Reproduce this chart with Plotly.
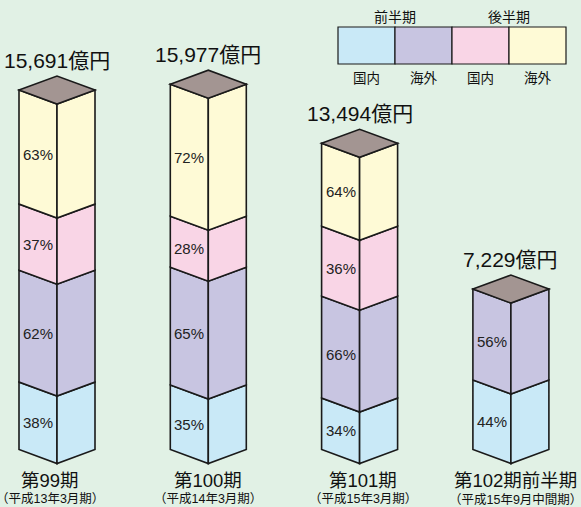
import plotly.graph_objects as go

# ---- data (億円) ----
periods = ["第99期", "第100期", "第101期", "第102期前半期"]
sub_labels = ["（平成13年3月期）", "（平成14年3月期）", "（平成15年3月期）", "（平成15年9月中間期）"]
totals = [15691, 15977, 13494, 7229]
h1_domestic = [2950, 2820, 2250, 3040]   # 前半期 国内
h1_overseas = [4900, 5160, 4460, 3980]   # 前半期 海外
h2_domestic = [2890, 2230, 3060, 0]      # 後半期 国内
h2_overseas = [4990, 5780, 3630, 0]      # 後半期 海外
pct_h1_domestic = [38, 35, 34, 44]
pct_h1_overseas = [62, 65, 66, 56]
pct_h2_domestic = [37, 28, 36, None]
pct_h2_overseas = [63, 72, 64, None]
legend_groups = ["前半期", "後半期"]
legend_items = ["国内", "海外", "国内", "海外"]

# ---- style ----
W, H = 581, 507
BG = "#e1f1e5"
C_BLUE = "#c9e9f7"
C_PURPLE = "#c8c5e1"
C_PINK = "#f9d5e6"
C_YELLOW = "#fefad6"
C_TOP = "#a39592"
LINE = "#1a1a1a"
FONT = "Liberation Sans, Noto Sans CJK JP, sans-serif"

PX_PER_UNIT = 0.02285          # pixels per 億円
BASE_PX = 449.5                # pixel row of value 0
X0_PX, STEP_PX = 57, 151.3     # centre of first bar, spacing
HALF_W = 38 / STEP_PX          # half width in x units
DEPTH = 14 / PX_PER_UNIT       # perspective offset in y units

yr = [-(H - BASE_PX) / PX_PER_UNIT, BASE_PX / PX_PER_UNIT]
xr = [-X0_PX / STEP_PX, (W - X0_PX) / STEP_PX]

fig = go.Figure()
shapes = []
annotations = []


def poly(pts, color):
    path = "M " + " L ".join(f"{px:.5f},{py:.3f}" for px, py in pts) + " Z"
    shapes.append(dict(type="path", xref="x", yref="y", path=path,
                       fillcolor=color, line=dict(color=LINE, width=1.6),
                       layer="above"))


series = [
    (h1_domestic, C_BLUE, pct_h1_domestic),
    (h1_overseas, C_PURPLE, pct_h1_overseas),
    (h2_domestic, C_PINK, pct_h2_domestic),
    (h2_overseas, C_YELLOW, pct_h2_overseas),
]

for i in range(len(periods)):
    xl, xc, xrt = i - HALF_W, float(i), i + HALF_W
    base = 0.0
    for vals, col, pcts in series:
        v = vals[i]
        if not v:
            continue
        b, t = base, base + v
        poly([(xl, t), (xc, t - DEPTH), (xc, b - DEPTH), (xl, b)], col)
        poly([(xc, t - DEPTH), (xrt, t), (xrt, b), (xc, b - DEPTH)], col)
        if pcts[i] is not None:
            annotations.append(dict(
                x=i - HALF_W / 2, y=(b + t) / 2 - DEPTH / 2, text=f"{pcts[i]}%",
                xanchor="center", yanchor="middle",
                showarrow=False, font=dict(size=15, color="#222", family=FONT)))
        base = t
    top = base
    poly([(xl, top), (xc, top + DEPTH), (xrt, top), (xc, top - DEPTH)], C_TOP)
    annotations.append(dict(
        x=i, y=top, xanchor="center", yanchor="bottom", yshift=16,
        text=f"{totals[i]:,}億円",
        showarrow=False, font=dict(size=21, color="#111", family=FONT)))
    sh = -7 if i == 0 else (5 if i == 3 else 3 if i == 2 else 0)
    annotations.append(dict(
        x=i, xshift=sh, yref="paper", y=1 - 480 / H, text=periods[i],
        xanchor="center", yanchor="middle",
        showarrow=False, font=dict(size=18.5, color="#111", family=FONT)))
    annotations.append(dict(
        x=i, xshift=sh, yref="paper", y=1 - 499 / H, text=sub_labels[i],
        xanchor="center", yanchor="middle",
        showarrow=False, font=dict(size=12.5, color="#111", family=FONT)))

fig.add_trace(go.Scatter(x=[xr[0], xr[1]], y=[yr[0], yr[1]], mode="markers",
                         marker=dict(opacity=0), hoverinfo="skip", showlegend=False))

# ---- legend box ----
leg_x0, leg_cell, leg_y0, leg_y1 = 338, 57, 27, 64
leg_cols = [C_BLUE, C_PURPLE, C_PINK, C_YELLOW]
for k, col in enumerate(leg_cols):
    x0 = leg_x0 + k * leg_cell
    shapes.append(dict(
        type="rect", xref="paper", yref="paper",
        x0=x0 / W, x1=(x0 + leg_cell) / W, y0=1 - leg_y1 / H, y1=1 - leg_y0 / H,
        fillcolor=col, line=dict(color=LINE, width=1.2)))
    annotations.append(dict(
        xref="paper", yref="paper", x=(x0 + leg_cell / 2) / W, y=1 - 78 / H,
        xanchor="center", yanchor="middle",
        text=legend_items[k], showarrow=False,
        font=dict(size=13.5, color="#111", family=FONT)))
for g, name in enumerate(legend_groups):
    cx = leg_x0 + leg_cell * (2 * g + 1)
    annotations.append(dict(
        xref="paper", yref="paper", x=cx / W, y=1 - 17 / H, text=name,
        xanchor="center", yanchor="middle",
        showarrow=False, font=dict(size=14, color="#111", family=FONT)))

fig.update_layout(
    width=W, height=H, margin=dict(l=0, r=0, t=0, b=0),
    paper_bgcolor=BG, plot_bgcolor=BG, showlegend=False,
    xaxis=dict(range=xr, visible=False, fixedrange=True),
    yaxis=dict(range=yr, visible=False, fixedrange=True),
    annotations=annotations, shapes=shapes,
)

fig.write_html("out.html")
